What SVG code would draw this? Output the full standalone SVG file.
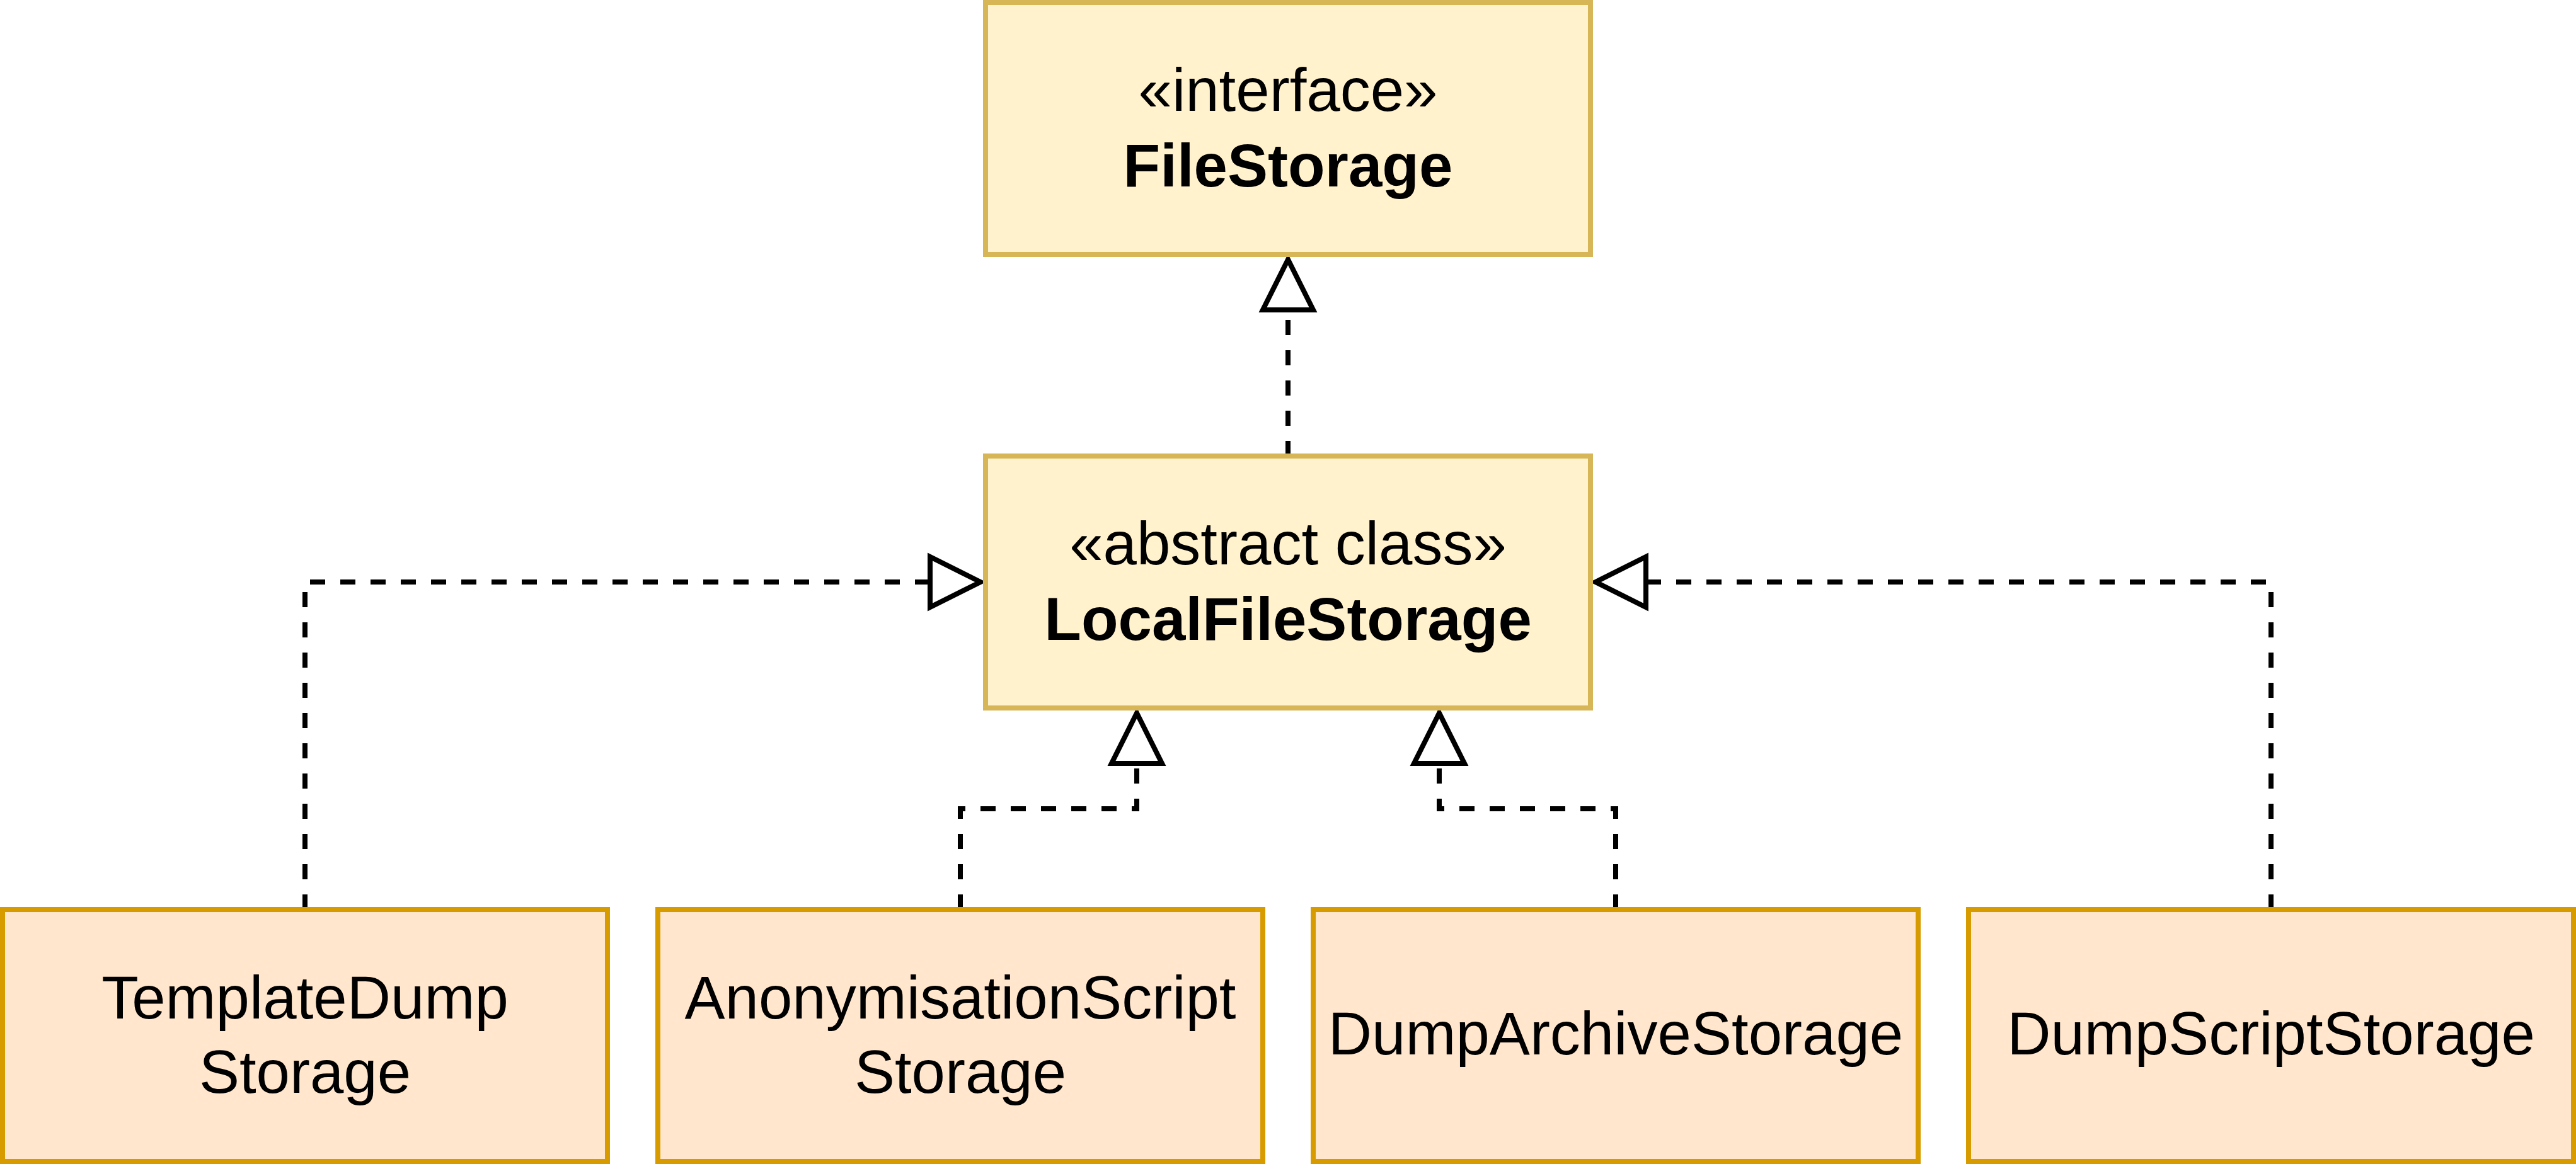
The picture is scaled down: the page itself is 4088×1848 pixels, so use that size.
<svg xmlns="http://www.w3.org/2000/svg" width="4088" height="1848" viewBox="0 0 4088 1848">
<style>
.iface{fill:#fff2cc;stroke:#d6b656;stroke-width:8}
.impl{fill:#ffe6cc;stroke:#d79b00;stroke-width:8}
text{font-family:"Liberation Sans",Arial,Helvetica,sans-serif;font-size:96px;fill:#000;text-anchor:middle}
.b{font-weight:bold}
.edge{fill:none;stroke:#000;stroke-width:8;stroke-dasharray:24 24}
.head{fill:#fff;stroke:#000;stroke-width:8;stroke-linejoin:miter}
</style>
<rect width="4088" height="1848" fill="#fff"/>
<g id="connectors">
<path class="edge" d="M2044 724 V492"/>
<polygon class="head" points="2044,412 2004,492 2084,492"/>
<path class="edge" d="M484 1444 V924 H1480"/>
<polygon class="head" points="1556,924 1476,884 1476,964"/>
<path class="edge" d="M3604 1444 V924 H2608"/>
<polygon class="head" points="2532,924 2612,884 2612,964"/>
<path class="edge" d="M1524 1444 V1284 H1804 V1212"/>
<polygon class="head" points="1804,1132 1764,1212 1844,1212"/>
<path class="edge" d="M2564 1444 V1284 H2284 V1212"/>
<polygon class="head" points="2284,1132 2244,1212 2324,1212"/>
</g>
<g id="FileStorage">
<rect class="iface" x="1564" y="4" width="960" height="400"/>
<text x="2044" y="176">«interface»</text>
<text class="b" x="2044" y="296">FileStorage</text>
</g>
<g id="LocalFileStorage">
<rect class="iface" x="1564" y="724" width="960" height="400"/>
<text x="2044" y="896">«abstract class»</text>
<text class="b" x="2044" y="1016">LocalFileStorage</text>
</g>
<g id="TemplateDumpStorage">
<rect class="impl" x="4" y="1444" width="960" height="400"/>
<text x="484" y="1617">TemplateDump</text>
<text x="484" y="1735">Storage</text>
</g>
<g id="AnonymisationScriptStorage">
<rect class="impl" x="1044" y="1444" width="960" height="400"/>
<text x="1524" y="1617">AnonymisationScript</text>
<text x="1524" y="1735">Storage</text>
</g>
<g id="DumpArchiveStorage">
<rect class="impl" x="2084" y="1444" width="960" height="400"/>
<text x="2564" y="1674">DumpArchiveStorage</text>
</g>
<g id="DumpScriptStorage">
<rect class="impl" x="3124" y="1444" width="960" height="400"/>
<text x="3604" y="1674">DumpScriptStorage</text>
</g>
</svg>
